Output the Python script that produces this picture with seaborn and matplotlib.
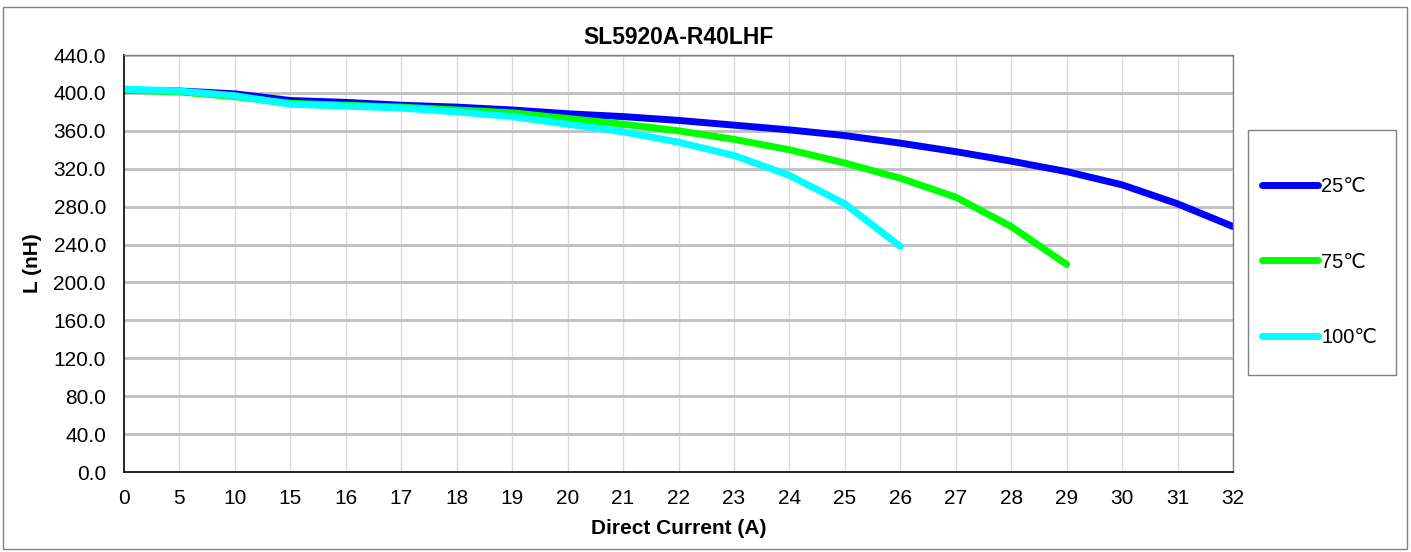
import pandas as pd
import matplotlib.pyplot as plt
import seaborn as sns
from matplotlib.lines import Line2D
from matplotlib.patches import Rectangle

# categories on the x axis (equally spaced, not a linear scale)
x_labels = ["0", "5", "10", "15", "16", "17", "18", "19", "20", "21", "22",
            "23", "24", "25", "26", "27", "28", "29", "30", "31", "32"]

# inductance (nH)
l_25c = [403, 402, 399, 392, 390, 387, 385, 382, 378, 375, 371,
         366, 361, 355, 347, 338, 328, 317, 303, 283, 259]
l_75c = [403, 401, 396, 389, 387, 385, 382, 379, 373, 367, 360,
         351, 340, 326, 310, 290, 259, 219]
l_100c = [404, 402, 397, 388, 386, 384, 380, 375, 367, 359, 348,
          334, 313, 283, 238]

series_names = ["25\u2103", "75\u2103", "100\u2103"]
series_colors = ["#0000FF", "#00FF00", "#00FFFF"]

rows = []
for name, vals in zip(series_names, [l_25c, l_75c, l_100c]):
    for lab, v in zip(x_labels, vals):
        rows.append({"current": lab, "L": v, "temp": name})
data = pd.DataFrame(rows)

sns.set_theme(style="white")
plt.rcParams["font.family"] = ["Liberation Sans", "DejaVu Sans"]
plt.rcParams["text.color"] = "black"
plt.rcParams["axes.labelcolor"] = "black"

fig = plt.figure(figsize=(14.11, 5.52), dpi=100)
ax = fig.add_axes([124 / 1411, 80 / 552, 1109 / 1411, 417 / 552])

sns.lineplot(data=data, x="current", y="L", hue="temp",
             palette=dict(zip(series_names, series_colors)),
             hue_order=series_names, sort=False, lw=5, ax=ax,
             legend=False, solid_capstyle="round")

ax.set_xlim(0, len(x_labels) - 1)
ax.set_ylim(0, 440)
ax.set_yticks(range(0, 441, 40))
ax.set_yticklabels([f"{v:.1f}" for v in range(0, 441, 40)])

ax.grid(False)
for i in range(1, len(x_labels)):
    ax.axvline(i, color="#d9d9d9", lw=1, zorder=0)
for v in range(40, 441, 40):
    ax.axhline(v, color="#bfbfbf", lw=2, zorder=0)

ax.tick_params(axis="both", direction="in", length=6, width=1,
               labelsize=15, colors="black")
ax.tick_params(axis="y", pad=13)
ax.tick_params(axis="x", pad=12)
for s in ["left", "bottom"]:
    ax.spines[s].set_color("black")
    ax.spines[s].set_linewidth(1.2)
for s in ["top", "right"]:
    ax.spines[s].set_color("#808080")
    ax.spines[s].set_linewidth(1)

ax.set_title("SL5920A-R40LHF", fontsize=16.5, fontweight="bold", pad=8)
ax.set_xlabel("Direct Current (A)", fontsize=15, fontweight="bold", labelpad=8)
ax.set_ylabel("L (nH)", fontsize=15, fontweight="bold", labelpad=8)

# legend box drawn separately to match the reference frame size
fig.patches.append(Rectangle((1248 / 1411, 1 - 375 / 552), 148 / 1411, 245 / 552,
                             transform=fig.transFigure, fill=False,
                             edgecolor="#808080", lw=1))
handles = [Line2D([], [], color=c, lw=5, solid_capstyle="round")
           for c in series_colors]
fig.legend(handles, series_names, loc="center left",
           bbox_to_anchor=(1262 / 1411, 1 - 262 / 552), fontsize=14.5,
           handlelength=2.8, labelspacing=2.8, handletextpad=0.15,
           borderpad=0, borderaxespad=0, frameon=False)

fig.patches.append(Rectangle((3 / 1411, 3 / 552), 1404 / 1411, 542 / 552,
                             transform=fig.transFigure, fill=False,
                             edgecolor="#808080", lw=1))

plt.savefig("out.png", dpi=100)
